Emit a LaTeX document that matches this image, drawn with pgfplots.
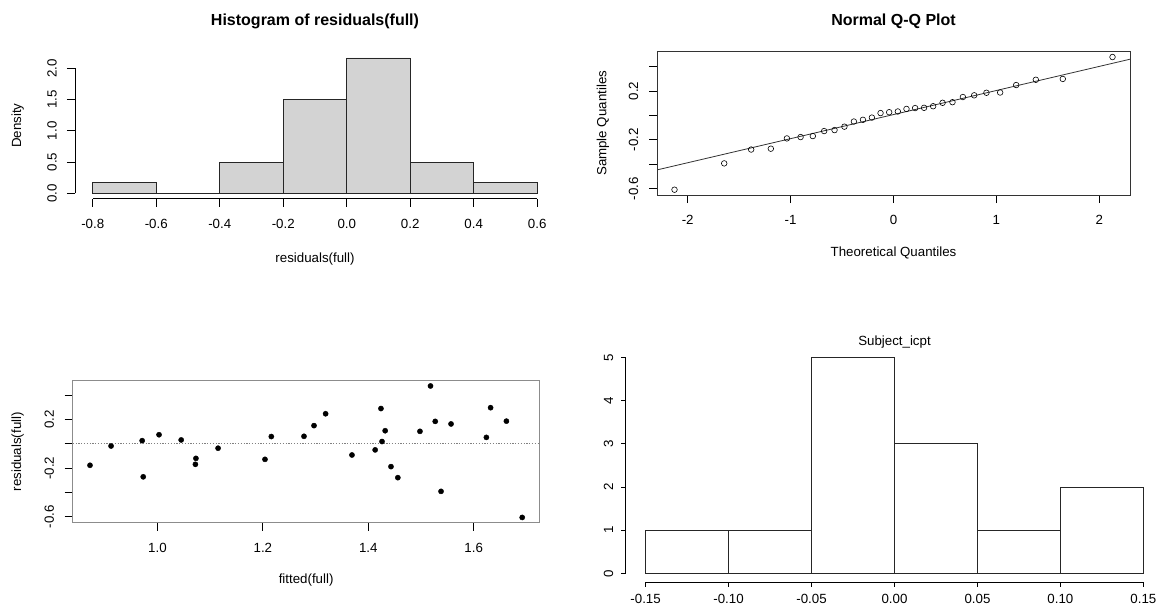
\documentclass[border=0pt]{standalone}
\usepackage{fontspec}
\setmainfont{Liberation Sans}
\usepackage{pgfplots}
\pgfplotsset{compat=1.18}

\definecolor{histfill}{HTML}{D3D3D3}
\definecolor{boxgray}{HTML}{8C8C8C}
\definecolor{boxdark}{HTML}{333333}
\newcommand{\rfont}{\fontsize{13.3bp}{15bp}\selectfont}
\newcommand{\rtitle}{\fontsize{16bp}{19bp}\selectfont\bfseries}

\pgfplotsset{
  rbase/.style={
    scale only axis, anchor=south west,
    tick align=outside, tick pos=left,
    major tick length=8bp,
    tick style={black, line width=0.8bp},
    tick label style={font=\rfont, text=black},
    label style={font=\rfont, text=black},
    title style={font=\rtitle, at={(axis description cs:0.5,1)}, anchor=center},
  },
  % tick labels of R-style axes: x labels below, y labels turned upright
  rticks/.style 2 args={
    xticklabel style={anchor=center, yshift=#1},
    yticklabel style={xshift=#2, rotate=90, anchor=center},
  },
}

% residuals against fitted values of the model (n = 30)
\pgfplotstableread{
x y
0.872 -0.177
0.912 -0.018
0.971 0.026
0.973 -0.272
1.003 0.075
1.045 0.032
1.073 -0.120
1.072 -0.169
1.115 -0.036
1.204 -0.128
1.216 0.060
1.278 0.062
1.297 0.150
1.319 0.248
1.369 -0.092
1.413 -0.050
1.424 0.291
1.426 0.019
1.432 0.108
1.443 -0.188
1.456 -0.279
1.498 0.103
1.518 0.477
1.527 0.185
1.538 -0.392
1.557 0.164
1.624 0.053
1.632 0.298
1.662 0.187
1.692 -0.607
}\fitres

% normal scores against sorted residuals
\pgfplotstableread{
q s
-2.128 -0.607
-1.645 -0.392
-1.383 -0.279
-1.192 -0.272
-1.036 -0.188
-0.903 -0.177
-0.784 -0.169
-0.674 -0.128
-0.573 -0.120
-0.477 -0.092
-0.385 -0.050
-0.297 -0.036
-0.210 -0.018
-0.126 0.019
-0.042 0.026
0.042 0.032
0.126 0.053
0.210 0.060
0.297 0.062
0.385 0.075
0.477 0.103
0.573 0.108
0.674 0.150
0.784 0.164
0.903 0.185
1.036 0.187
1.192 0.248
1.383 0.291
1.645 0.298
2.128 0.477
}\qqres

\begin{document}
\begin{tikzpicture}
\useasboundingbox (0,0) rectangle (1169bp,-615bp);

% ---- histogram of residuals (density) ----
\begin{axis}[rbase, rticks={-17.3bp}{-15bp},
  at={(75bp,-198.7bp)}, width=480bp, height=146.2bp,
  xmin=-0.856, xmax=0.656, ymin=-0.08667, ymax=2.25333,
  axis line style={draw=none}, clip=false,
  xtick={-0.8,-0.6,-0.4,-0.2,0,0.2,0.4,0.6},
  xticklabels={-0.8,-0.6,-0.4,-0.2,0.0,0.2,0.4,0.6},
  ytick={0,0.5,1,1.5,2},
  yticklabels={0.0,0.5,1.0,1.5,2.0},
  title={Histogram of residuals(full)},
  title style={yshift=25.5bp},
  xlabel={residuals(full)},
  xlabel style={at={(axis description cs:0.5,0)}, anchor=center, yshift=-60.5bp},
  ylabel={Density},
  ylabel style={at={([xshift=-57.3bp]axis description cs:0,0.5)}, anchor=center},
]
\addplot[ybar interval, fill=histfill, draw=black!85, line width=0.8bp]
  coordinates {(-0.8,0.16667) (-0.6,0) (-0.4,0.5) (-0.2,1.5) (0,2.16667)
               (0.2,0.5) (0.4,0.16667) (0.6,0.16667)};
\draw[line width=0.8bp] (axis cs:-0.8,-0.08667) -- (axis cs:0.6,-0.08667);
\draw[line width=0.8bp] (axis cs:-0.856,0) -- (axis cs:-0.856,2);
\end{axis}

% ---- normal Q-Q plot ----
\begin{axis}[rbase, rticks={-17bp}{-15.5bp},
  at={(657bp,-195bp)}, width=473bp, height=143.3bp,
  xmin=-2.298, xmax=2.298, ymin=-0.6504, ymax=0.5204,
  axis line style={boxdark, line width=0.9bp},
  xtick={-2,-1,0,1,2}, xticklabels={-2,-1,0,1,2},
  ytick={-0.6,-0.4,-0.2,0,0.2,0.4},
  yticklabels={-0.6,,-0.2,,0.2,},
  title={Normal Q-Q Plot},
  title style={yshift=24.7bp},
  xlabel={Theoretical Quantiles},
  xlabel style={at={(axis description cs:0.5,0)}, anchor=center, yshift=-58bp},
  ylabel={Sample Quantiles},
  ylabel style={at={([xshift=-54bp]axis description cs:0,0.5)}, anchor=center},
]
\addplot[only marks, mark=o, mark size=2.8bp, mark options={line width=0.6bp, draw=black}]
  table[x=q, y=s] {\qqres};
% reference line through the first and third quartiles
\addplot[black!80, line width=0.8bp] coordinates {(-2.5,-0.4852) (2.5,0.4988)};
\end{axis}

% ---- residuals against fitted values ----
\begin{axis}[rbase, rticks={-17.3bp}{-15.5bp},
  at={(72.7bp,-522.7bp)}, width=466.8bp, height=142bp,
  xmin=0.8392, xmax=1.7248, ymin=-0.6504, ymax=0.5204,
  axis line style={boxgray, line width=0.9bp},
  xtick={1.0,1.2,1.4,1.6}, xticklabels={1.0,1.2,1.4,1.6},
  ytick={-0.6,-0.4,-0.2,0,0.2,0.4},
  yticklabels={-0.6,,-0.2,,0.2,},
  xlabel={fitted(full)},
  xlabel style={at={(axis description cs:0.5,0)}, anchor=center, yshift=-57.3bp},
  ylabel={residuals(full)},
  ylabel style={at={([xshift=-55bp]axis description cs:0,0.5)}, anchor=center},
]
\addplot[gray, line width=0.9bp, dash pattern=on 1.2bp off 1.6bp]
  coordinates {(0.8392,0) (1.7248,0)};
\addplot[only marks, mark=*, mark size=2.6bp, mark options={fill=black, draw=black}]
  table[x=x, y=y] {\fitres};
\end{axis}

% ---- histogram of subject intercepts (counts) ----
\begin{axis}[rbase, rticks={-12.8bp}{-12.7bp},
  at={(625.7bp,-582bp)}, width=537.6bp, height=233.3bp,
  xmin=-0.162, xmax=0.162, ymin=-0.2, ymax=5.2,
  axis line style={draw=none}, clip=false,
  major tick length=4.5bp,
  xtick={-0.15,-0.1,-0.05,0,0.05,0.1,0.15},
  xticklabels={-0.15,-0.10,-0.05,0.00,0.05,0.10,0.15},
  ytick={0,1,2,3,4,5},
  yticklabels={0,1,2,3,4,5},
  title={Subject\_icpt},
  title style={font=\rfont, yshift=1bp},
]
\addplot[ybar interval, fill=white, draw=black!85, line width=0.9bp]
  coordinates {(-0.15,1) (-0.10,1) (-0.05,5) (0,3) (0.05,1) (0.10,2) (0.15,2)};
\draw[line width=0.8bp] (axis cs:-0.15,-0.2) -- (axis cs:0.15,-0.2);
\draw[line width=0.8bp] (axis cs:-0.162,0) -- (axis cs:-0.162,5);
\end{axis}
\end{tikzpicture}
\end{document}
